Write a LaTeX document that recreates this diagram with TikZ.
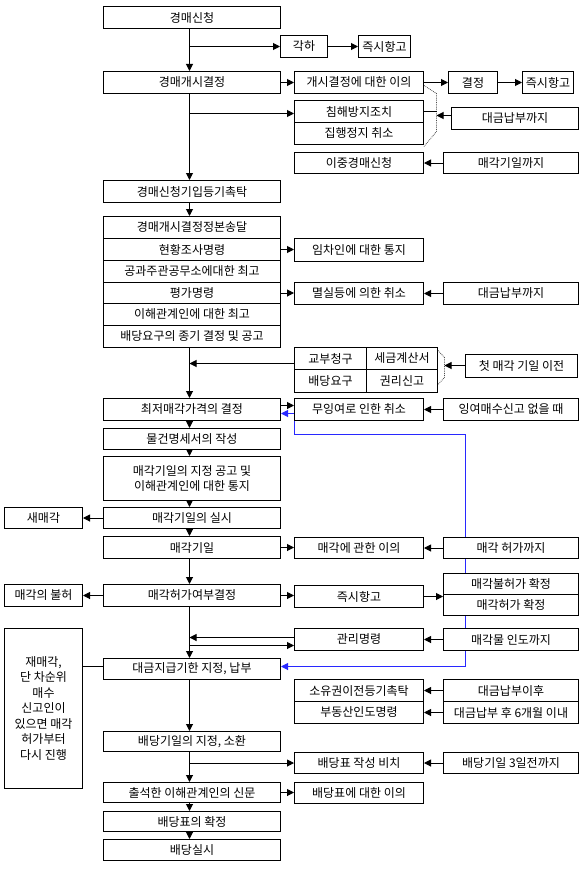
\documentclass[tikz,border=0pt]{standalone}
\usepackage{fontspec}
\newfontfamily\kr{Noto Sans CJK KR}
\usetikzlibrary{arrows.meta,backgrounds}
\pgfdeclarelayer{paper}
\pgfsetlayers{paper,background,main}
\definecolor{lnblue}{RGB}{40,40,255}
\tikzset{
  bx/.style={draw, fill=white, line width=1pt, inner sep=0pt, minimum height=22pt,
     font=\kr\fontsize{12}{15.5}\selectfont},
  mn/.style={bx, minimum width=177pt},
  ra/.style={bx, minimum width=129pt},
  rb/.style={bx, minimum width=135pt},
  lb/.style={bx, minimum width=78pt},
  arr/.style={-{Triangle[length=7pt,width=7pt]}, line width=1pt},
  barr/.style={{Triangle[length=7pt,width=7pt]}-{Triangle[length=7pt,width=7pt]}, line width=1pt, draw=lnblue},
  brk/.style={densely dotted, line width=0.8pt, draw=black!70}
}
\begin{document}
\begin{tikzpicture}[x=1pt,y=-1pt]
\begin{pgfonlayer}{paper}
\fill[white] (0,0) rectangle (582,875);
\end{pgfonlayer}
\useasboundingbox (0,0) rectangle (582,875);
\begin{scope}[shift={(0.5,0.5)}]
\coordinate (L) at (189,0);
% main column
\node[mn] (a1) at (191.5,17) {경매신청};
\node[bx, minimum width=47pt] (gh) at (303.5,46) {각하};
\node[bx, minimum width=52pt] (jh1) at (384,46) {즉시항고};
\node[mn] (a2) at (191.5,82) {경매개시결정};
\node[ra] (iu) at (358.5,82) {개시결정에 대한 이의};
\node[bx, minimum width=49pt] (gj) at (472.5,82) {결정};
\node[bx, minimum width=51pt] (jh2) at (547.5,82) {즉시항고};
\node[ra] (ch) at (358.5,111) {침해방지조치};
\node[ra] (jj) at (358.5,133) {집행정지 취소};
\node[bx, minimum width=127pt] (dg1) at (514.5,118) {대금납부까지};
\node[ra, minimum height=21pt] (ij) at (358.5,162.5) {이중경매신청};
\node[rb, minimum height=21pt] (mg1) at (510.5,162.5) {매각기일까지};
\node[mn] (a3) at (191.5,191) {경매신청기입등기촉탁};
\node[mn, minimum height=22pt] (b1) at (191.5,227) {경매개시결정정본송달};
\node[mn, minimum height=22pt] (b2) at (191.5,249) {현황조사명령};
\node[mn, minimum height=22pt] (b3) at (191.5,271) {공과주관공무소에대한 최고};
\node[mn, minimum height=21pt] (b4) at (191.5,292.5) {평가명령};
\node[mn, minimum height=22pt] (b5) at (191.5,314) {이해관계인에 대한 최고};
\node[mn, minimum height=22pt] (b6) at (191.5,336) {배당요구의 종기 결정 및 공고};
\node[ra, minimum height=23pt] (ic) at (358.5,249.5) {임차인에 대한 통지};
\node[ra] (ms) at (358.5,293) {멸실등에 의한 취소};
\node[rb] (dg2) at (510.5,293) {대금납부까지};
\node[bx, minimum width=72pt] (k1) at (330,358) {교부청구};
\node[bx, minimum width=71pt] (k2) at (401.5,358) {세금계산서};
\node[bx, minimum width=72pt, minimum height=23pt] (k3) at (330,380.5) {배당요구};
\node[bx, minimum width=71pt, minimum height=23pt] (k4) at (401.5,380.5) {권리신고};
\node[bx, minimum width=112pt, minimum height=23pt] (cm) at (521,365.5) {첫 매각 기일 이전};
\node[mn] (a5) at (191.5,409) {최저매각가격의 결정};
\node[ra] (my) at (358.5,409) {무잉여로 인한 취소};
\node[rb] (iy) at (510.5,409) {잉여매수신고 없을 때};
\node[mn, minimum height=21pt] (a6) at (191.5,438.5) {물건명세서의 작성};
\node[mn, minimum height=44pt, align=center] (a7) at (191.5,478) {매각기일의 지정 공고 및\\이해관계인에 대한 통지};
\node[mn, minimum height=21pt] (a8) at (191.5,517.5) {매각기일의 실시};
\node[lb, minimum height=21pt] (sm) at (43,517.5) {새매각};
\node[mn] (a9) at (191.5,547) {매각기일};
\node[ra, minimum height=21pt] (mi) at (358.5,547.5) {매각에 관한 이의};
\node[rb, minimum height=21pt] (mh) at (510.5,547.5) {매각 허가까지};
\node[mn] (a10) at (191.5,595) {매각허가여부결정};
\node[lb] (mb) at (43,595) {매각의 불허};
\node[ra] (jh3) at (358.5,596) {즉시항고};
\node[rb, minimum height=21pt] (hb) at (510.5,583.5) {매각불허가 확정};
\node[rb, minimum height=21pt] (hk) at (510.5,604.5) {매각허가 확정};
\node[ra] (gm) at (358.5,639) {관리명령};
\node[rb] (md) at (510.5,639) {매각물 인도까지};
\node[lb, minimum height=160pt, align=center] (jm) at (43,708) {재매각,\\단 차순위\\매수\\신고인이\\있으면 매각\\허가부터\\다시 진행};
\node[mn, minimum height=21pt] (a11) at (191.5,668.5) {대금지급기한 지정, 납부};
\node[ra] (sy) at (358.5,690) {소유권이전등기촉탁};
\node[ra] (bd) at (358.5,712) {부동산인도명령};
\node[rb] (di) at (510.5,690) {대금납부이후};
\node[rb] (d6) at (510.5,712) {대금납부 후 6개월 이내};
\node[mn, minimum height=20pt] (a12) at (191.5,741) {배당기일의 지정, 소환};
\node[ra, minimum height=21pt] (bp) at (358.5,762.5) {배당표 작성 비치};
\node[rb, minimum height=21pt] (bt) at (510.5,762.5) {배당기일 3일전까지};
\node[mn, minimum height=20pt] (a13) at (191.5,792) {출석한 이해관계인의 신문};
\node[ra, minimum height=21pt] (bi) at (358.5,792.5) {배당표에 대한 이의};
\node[mn, minimum height=20pt] (a14) at (191.5,821) {배당표의 확정};
\node[mn, minimum height=21pt] (a15) at (191.5,849.5) {배당실시};
% coordinates for brackets
\coordinate (br1) at (436,115);
\coordinate (br2) at (444,365);
% main flow
\draw[arr] (a1.south -| L) -- (a2.north -| L);
\draw[arr] (a2.south -| L) -- (a3.north -| L);
\draw[arr] (a3.south -| L) -- (b1.north -| L);
\draw[arr] (b6.south -| L) -- (a5.north -| L);
\draw[arr] (a5.south -| L) -- (a6.north -| L);
\draw[arr] (a6.south -| L) -- (a7.north -| L);
\draw[arr] (a7.south -| L) -- (a8.north -| L);
\draw[arr] (a8.south -| L) -- (a9.north -| L);
\draw[arr] (a9.south -| L) -- (a10.north -| L);
\draw[arr] (a10.south -| L) -- (a11.north -| L);
\draw[arr] (a11.south -| L) -- (a12.north -| L);
\draw[arr] (a12.south -| L) -- (a13.north -| L);
\draw[arr] (a13.south -| L) -- (a14.north -| L);
\draw[arr] (a14.south -| L) -- (a15.north -| L);
% branches
\draw[arr] (L |- gh.west) -- (gh.west);
\draw[arr] (gh) -- (jh1);
\draw[arr] (a2) -- (iu);
\draw[arr] (iu) -- (gj);
\draw[arr] (gj) -- (jh2);
\draw[arr] (L |- 0,113) -- (ch.west |- 0,113);
\draw[brk] (iu.east |- 0,85) -- (436,93) -- (436,131) -- (jj.east |- 0,146);
\draw[line width=1pt] (ch.east) -- (ch.east -| br1);
\draw[arr] (dg1.west |- br1) -- (br1);
\draw[arr] (mg1) -- (ij);
\draw[arr] (b2.east) -- (b2.east -| ic.west);
\draw[arr] (b4.east) -- (b4.east -| ms.west);
\draw[arr] (dg2) -- (ms);
\draw[arr] (k1.west |- 0,363) -- (L |- 0,363);
\draw[brk] (k2.east |- 0,350) -- (444,357) -- (444,377) -- (k4.east |- 0,384);
\draw[arr] (cm.west |- br2) -- (br2);
\draw[arr] (a5.east |- 0,405) -- (my.west |- 0,405);
\draw[arr] (iy) -- (my);
\draw[arr] (a8) -- (sm);
\draw[arr] (a9.east) -- (a9.east -| mi.west);
\draw[arr] (mh) -- (mi);
\draw[arr] (a10) -- (mb);
\draw[arr] (a10.east) -- (a10.east -| jh3.west);
\draw[arr] (jh3.east) -- (jh3.east -| hb.west);
\draw[arr] (gm.west |- 0,637) -- (L |- 0,637);
\draw[arr] (L |- 0,645) -- (gm.west |- 0,645);
\draw[arr] (md) -- (gm);
\draw[line width=1pt] (jm.east |- 0,666) -- (a11.west |- 0,666);
\draw[arr] (di) -- (sy);
\draw[arr] (d6) -- (bd);
\draw[arr] (L |- bp.west) -- (bp.west);
\draw[arr] (bt) -- (bp);
\draw[arr] (a13.east) -- (a13.east -| bi.west);
% blue link (behind boxes)
\begin{pgfonlayer}{background}
\draw[barr] (a11.east |- 0,666) -- (465,666) -- (465,434) -- (my.west |- 0,434) -- (my.west |- 0,413) -- (a5.east |- 0,413);
\end{pgfonlayer}
\end{scope}
\end{tikzpicture}
\end{document}
